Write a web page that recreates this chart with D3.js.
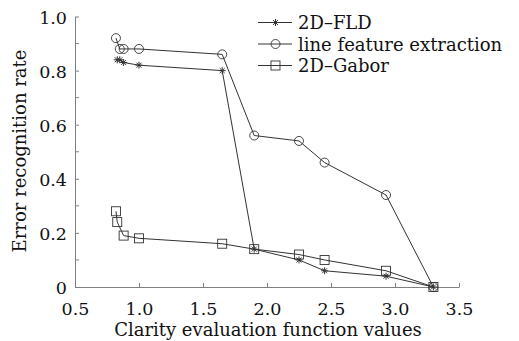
<!DOCTYPE html>
<html>
<head>
<meta charset="utf-8">
<script src="https://cdn.jsdelivr.net/npm/d3@7"></script>
<style>
  html, body { margin: 0; padding: 0; background: #fff; }
  svg { display: block; font-family: "DejaVu Serif", serif; }
</style>
</head>
<body>
<svg id="chart" width="519" height="341"></svg>
<script>
// 曲線データ
const fldX    = [0.83, 0.85, 0.88, 1.0, 1.65, 1.9, 2.25, 2.45, 2.93, 3.3]
const fldY    = [0.84, 0.84, 0.83, 0.82, 0.80, 0.14, 0.10, 0.06, 0.04, 0.0]
const lineX   = [0.82, 0.85, 0.88, 1.0, 1.65, 1.9, 2.25, 2.45, 2.93, 3.3]
const lineY   = [0.92, 0.88, 0.88, 0.88, 0.86, 0.56, 0.54, 0.46, 0.34, 0.0]
const gaborX  = [0.82, 0.83, 0.88, 1.0, 1.65, 1.9, 2.25, 2.45, 2.93, 3.3]
const gaborY  = [0.28, 0.24, 0.19, 0.18, 0.16, 0.14, 0.12, 0.10, 0.06, 0.0]

const seriesNames = ['2D\u2013FLD', 'line feature extraction', '2D\u2013Gabor']
const xTicks = [0.5, 1.0, 1.5, 2.0, 2.5, 3.0, 3.5]
const yTicks = [0, 0.2, 0.4, 0.6, 0.8, 1.0]
const yMinorTicks = [0.1, 0.3, 0.5, 0.7, 0.9]

const svg = d3.select('#chart')
const axisColor = '#808080'
const lineColor = '#333'
const textColor = '#111'
const fontFamily = '"DejaVu Serif", serif'

const x = d3.scaleLinear().domain([0.5, 3.5]).range([75, 459])
const y = d3.scaleLinear().domain([0, 1.0]).range([287, 16.5])

// 軸
const fmt = d => d === 0 ? '0' : d3.format('.1f')(d)
const xAxis = d3.axisBottom(x).tickValues(xTicks).tickSizeInner(-4).tickSizeOuter(0).tickFormat(fmt)
const gx = svg.append('g').attr('transform', `translate(0,${y(0)})`).call(xAxis)
gx.select('.domain').attr('stroke', axisColor)
gx.selectAll('.tick line').attr('stroke', axisColor)
gx.selectAll('.tick text').attr('fill', textColor).attr('font-size', 17.5)
  .attr('font-family', fontFamily).attr('y', 28).attr('dy', 0)

const yAxis = d3.axisLeft(y).tickValues(yTicks).tickSizeInner(-4).tickSizeOuter(0).tickFormat(fmt)
const gy = svg.append('g').attr('transform', `translate(${x(0.5)},0)`).call(yAxis)
gy.select('.domain').attr('stroke', axisColor)
gy.selectAll('.tick line').attr('stroke', axisColor)
gy.selectAll('.tick text').attr('fill', textColor).attr('font-size', 17.5)
  .attr('font-family', fontFamily).attr('x', -8).attr('dy', '0.38em')

// 副目盛り
svg.append('g').selectAll('line').data(yMinorTicks).enter().append('line')
  .attr('x1', x(0.5)).attr('x2', x(0.5) + 4)
  .attr('y1', d => y(d)).attr('y2', d => y(d))
  .attr('stroke', axisColor)

// 軸ラベル
svg.append('text')
  .attr('x', 268).attr('y', 336)
  .attr('text-anchor', 'middle')
  .attr('font-size', 18).attr('fill', textColor)
  .text('Clarity evaluation function values')

svg.append('text')
  .attr('transform', 'translate(26,151) rotate(-90)')
  .attr('text-anchor', 'middle')
  .attr('font-size', 18).attr('fill', textColor)
  .text('Error recognition rate')

// マーカー描画関数
function drawMarker(g, type, cx, cy) {
  if (type === 'star') {
    const r = 3.5
    const p = []
    for (let i = 0; i < 4; i++) {
      const a = i * Math.PI / 4
      p.push(`M${cx - r * Math.cos(a)},${cy - r * Math.sin(a)}L${cx + r * Math.cos(a)},${cy + r * Math.sin(a)}`)
    }
    g.append('path').attr('d', p.join('')).attr('stroke', lineColor).attr('stroke-width', 1).attr('fill', 'none')
  } else if (type === 'circle') {
    g.append('circle').attr('cx', cx).attr('cy', cy).attr('r', 4.5)
      .attr('fill', 'none').attr('stroke', lineColor).attr('stroke-width', 0.9)
  } else {
    g.append('rect').attr('x', cx - 4.5).attr('y', cy - 4.5).attr('width', 9).attr('height', 9)
      .attr('fill', 'none').attr('stroke', lineColor).attr('stroke-width', 0.9)
  }
}

const series = [
  { xs: fldX, ys: fldY, type: 'star' },
  { xs: lineX, ys: lineY, type: 'circle' },
  { xs: gaborX, ys: gaborY, type: 'square' }
]

const line = d3.line().x(d => x(d[0])).y(d => y(d[1]))

series.forEach(s => {
  const pts = s.xs.map((v, i) => [v, s.ys[i]])
  svg.append('path').datum(pts).attr('d', line)
    .attr('fill', 'none').attr('stroke', lineColor).attr('stroke-width', 1)
  const g = svg.append('g')
  pts.forEach(p => drawMarker(g, s.type, x(p[0]), y(p[1])))
})

// 凡例
const legend = svg.append('g')
series.forEach((s, i) => {
  const ly = 22.5 + i * 21.5
  legend.append('line').attr('x1', 258).attr('x2', 292).attr('y1', ly).attr('y2', ly)
    .attr('stroke', lineColor).attr('stroke-width', 1)
  drawMarker(legend, s.type, 275.5, ly)
  legend.append('text').attr('x', 298).attr('y', ly + 6.5)
    .attr('font-size', 18).attr('fill', textColor)
    .text(seriesNames[i])
})
</script>
</body>
</html>
